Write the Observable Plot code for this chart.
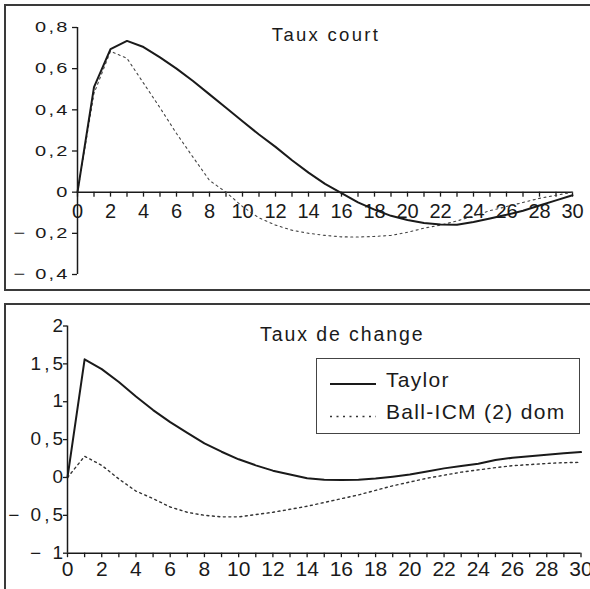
<!DOCTYPE html>
<html>
<head>
<meta charset="utf-8">
<script src="https://cdn.jsdelivr.net/npm/d3@7"></script>
<script src="https://cdn.jsdelivr.net/npm/@observablehq/plot@0.6"></script>
<style>
  html, body { margin: 0; padding: 0; background: #fff; }
  #page { position: relative; width: 590px; height: 589px; overflow: hidden; background: #fff;
          font-family: "Liberation Sans", Arial, Helvetica, sans-serif; color: #1a1a1a; }
  .panel { position: absolute; box-sizing: border-box; border: 2px solid #3a3a3a; overflow: hidden; }
  #p1 { left: 4px; top: 4px; width: 700px; height: 287px; }
  #p2 { left: 4px; top: 303px; width: 700px; height: 400px; }
  .panel svg { position: absolute; left: 0; top: 0; overflow: visible; }
  g[aria-description="ylab-top"] text { letter-spacing: 2.2px; }
  g[aria-description="ylab-bot"] text { letter-spacing: 3px; }
  g[aria-description="title-top"] text { letter-spacing: 2.3px; }
  g[aria-description="title-bot"] text { letter-spacing: 1.9px; }
  #legend { position: absolute; left: 316px; top: 358px; width: 264px; height: 76px;
            box-sizing: border-box; border: 1.5px solid #444; background: #fff; }
  #legend svg { position: absolute; left: 0; top: 0; }
  #legend text { font-family: "Liberation Sans", Arial, sans-serif; font-size: 21px; letter-spacing: 1.3px; fill: #1a1a1a; }
</style>
</head>
<body>
<div id="page">
  <div class="panel" id="p1"></div>
  <div class="panel" id="p2"></div>
  <div id="legend"></div>
</div>
<script>
// ---- Data ----
const periods = [0,1,2,3,4,5,6,7,8,9,10,11,12,13,14,15,16,17,18,19,20,21,22,23,24,25,26,27,28,29,30];

// Panel 1: Taux court
const tauxCourtTaylor = [0, 0.51, 0.695, 0.735, 0.705, 0.655, 0.60, 0.54, 0.475, 0.41, 0.345, 0.28, 0.22, 0.155, 0.095, 0.04, -0.005, -0.05, -0.085, -0.115, -0.135, -0.15, -0.157, -0.158, -0.145, -0.128, -0.11, -0.09, -0.065, -0.04, -0.015];
const tauxCourtBall   = [0, 0.48, 0.685, 0.65, 0.53, 0.41, 0.285, 0.17, 0.057, 0.0, -0.07, -0.125, -0.16, -0.185, -0.2, -0.21, -0.217, -0.218, -0.215, -0.21, -0.195, -0.175, -0.16, -0.14, -0.115, -0.09, -0.07, -0.05, -0.03, -0.015, 0.0];

// Panel 2: Taux de change
const tauxChangeTaylor = [0, 1.56, 1.43, 1.26, 1.07, 0.89, 0.73, 0.59, 0.45, 0.34, 0.24, 0.16, 0.09, 0.04, -0.01, -0.03, -0.035, -0.03, -0.015, 0.01, 0.04, 0.08, 0.12, 0.15, 0.18, 0.23, 0.26, 0.28, 0.30, 0.32, 0.335];
const tauxChangeBall   = [0, 0.28, 0.16, -0.02, -0.18, -0.28, -0.39, -0.46, -0.50, -0.52, -0.52, -0.49, -0.46, -0.42, -0.38, -0.33, -0.28, -0.23, -0.17, -0.11, -0.06, -0.01, 0.03, 0.07, 0.10, 0.13, 0.155, 0.17, 0.185, 0.195, 0.2];

// Ticks and labels
const xMinorTicks = periods;
const xLabelTicks = [0,2,4,6,8,10,12,14,16,18,20,22,24,26,28,30];
const topYTicks  = [-0.4, -0.2, 0, 0.2, 0.4, 0.6, 0.8];
const topYLabels = ["\u2212 0,4", "\u2212 0,2", "0", "0,2", "0,4", "0,6", "0,8"];
const botYTicks  = [-1, -0.5, 0, 0.5, 1, 1.5, 2];
const botYLabels = ["\u2212 1", "\u2212 0,5", "0", "0,5", "1", "1,5", "2"];

const titles = ["Taux court", "Taux de change"];
const seriesNames = ["Taylor", "Ball-ICM (2) dom"];

const ink = "#1a1a1a";
const font = "Liberation Sans, Arial, Helvetica, sans-serif";
const dotted = "2,3.5";

function rows(ys) { return periods.map((p, i) => ({x: p, y: ys[i]})); }

// squash tick-label glyphs vertically, as in the scanned original
function squash(svg, desc, sy) {
  d3.select(svg).selectAll(`g[aria-description="${desc}"] text`).each(function() {
    const t = this.getAttribute("transform") || "";
    this.setAttribute("transform", `${t} scale(1,${sy})`);
  });
}

// ---- Panel 1 ----
const chartTop = Plot.plot({
  width: 584, height: 283,
  marginTop: 21, marginBottom: 15, marginLeft: 71, marginRight: 18,
  x: {domain: [0, 30], axis: null},
  y: {domain: [-0.4, 0.8], axis: null},
  style: {fontFamily: font, background: "transparent", color: ink},
  marks: [
    Plot.ruleX([0], {y1: -0.4, y2: 0.8, stroke: ink, strokeWidth: 1.5}),
    Plot.ruleY([0], {x1: 0, x2: 30, stroke: ink, strokeWidth: 1.5}),
    Plot.ruleX(xMinorTicks, {x: d => d, y1: 0, y2: 0, insetBottom: -5, stroke: ink, strokeWidth: 1.3}),
    Plot.ruleY(topYTicks, {y: d => d, x1: 0, x2: 0, insetLeft: -5, stroke: ink, strokeWidth: 1.3}),
    Plot.text(topYTicks, {x: 0, y: d => d, text: (d, i) => topYLabels[i], textAnchor: "end", dx: -8, fontSize: 20, fill: ink, ariaDescription: "ylab-top"}),
    Plot.text(xLabelTicks, {x: d => d, y: 0, dy: 19, text: d => String(d), fontSize: 20, fill: ink}),
    Plot.text([titles[0]], {frameAnchor: "top", lineAnchor: "top", dx: 1, dy: 0, text: d => d, fontSize: 18.5, fill: ink, ariaDescription: "title-top"}),
    Plot.line(rows(tauxCourtBall), {x: "x", y: "y", stroke: "#444", strokeWidth: 1.1, strokeDasharray: dotted}),
    Plot.line(rows(tauxCourtTaylor), {x: "x", y: "y", stroke: ink, strokeWidth: 2})
  ]
});
squash(chartTop, "ylab-top", 0.75);
document.getElementById("p1").appendChild(chartTop);

// ---- Panel 2 ----
const chartBot = Plot.plot({
  width: 584, height: 284,
  marginTop: 20.5, marginBottom: 36.3, marginLeft: 61, marginRight: 9.5,
  x: {domain: [0, 30], axis: null},
  y: {domain: [-1, 2], axis: null},
  style: {fontFamily: font, background: "transparent", color: ink},
  marks: [
    Plot.ruleX([0], {y1: -1, y2: 2, stroke: ink, strokeWidth: 1.5}),
    Plot.ruleY([-1], {x1: 0, x2: 30, stroke: ink, strokeWidth: 1.5}),
    Plot.ruleX(xMinorTicks, {x: d => d, y1: -1, y2: -1, insetBottom: -4.5, stroke: ink, strokeWidth: 1.3}),
    Plot.ruleY(botYTicks, {y: d => d, x1: 0, x2: 0, insetLeft: -4, stroke: ink, strokeWidth: 1.3}),
    Plot.text(botYTicks, {x: 0, y: d => d, text: (d, i) => botYLabels[i], textAnchor: "end", dx: -1.5, fontSize: 19, fill: ink, ariaDescription: "ylab-bot"}),
    Plot.text(xLabelTicks, {x: d => d, y: -1, dy: 16, text: d => String(d), fontSize: 21, fill: ink}),
    Plot.text([titles[1]], {frameAnchor: "top", lineAnchor: "top", dx: 18, dy: 1, text: d => d, fontSize: 19.5, fill: ink, ariaDescription: "title-bot"}),
    Plot.line(rows(tauxChangeBall), {x: "x", y: "y", stroke: "#333", strokeWidth: 1.4, strokeDasharray: dotted}),
    Plot.line(rows(tauxChangeTaylor), {x: "x", y: "y", stroke: ink, strokeWidth: 2})
  ]
});
squash(chartBot, "ylab-bot", 0.93);
document.getElementById("p2").appendChild(chartBot);

// ---- Legend (inside panel 2) ----
const leg = d3.select("#legend").append("svg").attr("width", 262).attr("height", 74);
leg.append("line").attr("x1", 13).attr("x2", 59).attr("y1", 25).attr("y2", 25)
   .attr("stroke", ink).attr("stroke-width", 2);
leg.append("text").attr("x", 69).attr("y", 28).text(seriesNames[0]);
leg.append("line").attr("x1", 13).attr("x2", 59).attr("y1", 57.5).attr("y2", 57.5)
   .attr("stroke", "#333").attr("stroke-width", 1.4).attr("stroke-dasharray", "2,4.5");
leg.append("text").attr("x", 69).attr("y", 59.5).text(seriesNames[1]);
</script>
</body>
</html>
